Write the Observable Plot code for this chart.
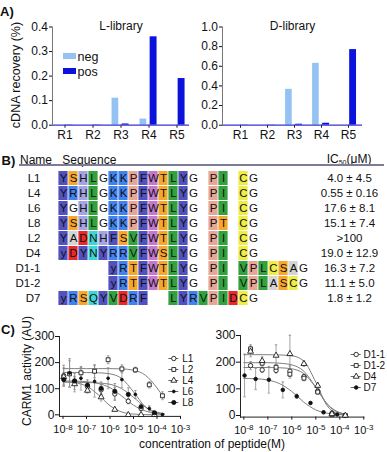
<!DOCTYPE html>
<html><head><meta charset="utf-8">
<script src="https://cdn.jsdelivr.net/npm/d3@7"></script>
<script src="https://cdn.jsdelivr.net/npm/@observablehq/plot@0.6"></script>
<style>
html,body{margin:0;padding:0;background:#fff;}
#root{position:relative;width:387px;height:452px;overflow:hidden;font-family:"Liberation Sans",Arial,Helvetica,sans-serif;color:#111;}
.t{position:absolute;white-space:nowrap;line-height:1;transform:translate(0,-50%);}
.rot{position:absolute;white-space:nowrap;line-height:1;transform:translate(-50%,-50%) rotate(-90deg);}
</style></head><body><div id="root"></div>
<script>
// ---------- Panel A data ----------
const rounds = ["R1","R2","R3","R4","R5"];
const lNeg = [0, 0, 0.11, 0.025, 0];
const lPos = [0.001, 0.001, 0.005, 0.36, 0.19];
const dNeg = [0, 0, 0.365, 0.63, 0];
const dPos = [0.002, 0.002, 0.01, 0.02, 0.77];
const lTicks = [0, 0.1, 0.2, 0.3, 0.4];
const dTicks = [0, 0.2, 0.4, 0.6, 0.8, 1.0];

// ---------- Panel B data ----------
const peptideNames = ["L1","L4","L6","L8","L2","D4","D1-1","D1-2","D7"];
const sequences = [
  "YSHLGKKPFWTLYG PI CG",
  "YRHLGKKPFWTLYG PI CG",
  "YGHLGKKPFWTLYG PI CG",
  "YSHLGKKPFWTLYG PT CG",
  "YADNHFSVFWTLYG PI CG",
  "yDYNYRRVFWSLYG PI CG",
  "     yRTFWTLYG PI VPLCSAG",
  "     yRTFWTLYG PI VPLASCG",
  "yRSQYVDRF  LYRVPIDCG"
];
const ic50Labels = ["4.0 ± 4.5","0.55 ± 0.16","17.6 ± 8.1","15.1 ± 7.4",">100","19.0 ± 12.9","16.3 ± 7.2","11.1 ± 5.0","1.8 ± 1.2"];

// ---------- Panel C data ----------
const decades = [1e-8, 1e-7, 1e-6, 1e-5, 1e-4, 1e-3];
const concA = [1.9e-8, 5.8e-8, 2.2e-7, 8.3e-7, 3.2e-6, 1.2e-5, 4.7e-5, 1.7e-4];
const concB = [1.07e-8, 3.1e-8, 1.1e-7, 4.2e-7, 1.6e-6, 6e-6, 2.1e-5, 7.8e-5];
const fitConc = [1e-8, 3.16e-8, 1e-7, 3.16e-7, 1e-6, 3.16e-6, 1e-5, 3.16e-5, 1e-4, 2e-4];

const l1Mean = [150,128,108,96,80,52,24,4],   l1Sd = [40,30,15,20,25,10,8,3];
const l2Mean = [157,161,167,211,176,172,115,73], l2Sd = [50,20,25,15,15,10,12,15];
const l4Mean = [145,118,93,68,20,0,0,0],     l4Sd = [35,30,10,15,5,2,2,2];
const l6Mean = [160,140,128,140,135,78,24,1], l6Sd = [55,45,60,40,30,15,10,3];
const l8Mean = [135,130,114,101,90,78,31,8],  l8Sd = [20,15,20,25,30,25,10,5];
const l1Fit = [130,129,127,120,104,72,37,15,5,3];
const l2Fit = [177,177,177,177,177,176,171,152,103,64];
const l4Fit = [127,123,110,77,35,11,3,1,0,0];
const l6Fit = [162,162,162,161,157,139,88,31,7,3];
const l8Fit = [125,125,124,122,117,100,67,30,10,5];

const d11Mean = [187,171,169,166,146,91,9,0],  d11Sd = [15,10,10,20,8,8,3,0];
const d12Mean = [250,196,181,155,140,88,3,0],  d12Sd = [15,10,10,15,10,8,3,0];
const d4Mean  = [240,205,225,231,194,112,6,0], d4Sd  = [20,15,40,70,10,10,4,0];
const d7Mean  = [150,137,134,96,72,47,12,4],   d7Sd  = [80,40,50,30,8,5,5,2];
const d11Fit = [180,180,180,179,175,157,105,39,9,4];
const d12Fit = [198,198,198,196,190,166,106,41,11,5];
const d4Fit  = [228,228,228,227,224,204,125,33,5,2];
const d7Fit  = [139,138,133,119,90,50,21,8,3,1];

const leftNames = ["L1","L2","L4","L6","L8"];
const rightNames = ["D1-1","D1-2","D4","D7"];

// ---------- styles ----------
const FONT = '"Liberation Sans", Arial, Helvetica, sans-serif';
const NEG = "#94c3f3", POS = "#0b12dc";
const resColor = {Y:"#5151bf", F:"#5151bf", H:"#a3a3e6", L:"#34a13f", V:"#34a13f", I:"#34a13f",
  K:"#4282f0", R:"#4282f0", P:"#e8a696", W:"#c477cc", T:"#f6a72b", S:"#f6a72b",
  C:"#eded45", D:"#e62a2a", N:"#3ed5d5", Q:"#3ed5d5", A:"#d4d4d4"};
const symStyle = {
  "L1": {symbol:"circle", fill:"white", r:2.2},
  "L2": {symbol:"square", fill:"white", r:2.2},
  "L4": {symbol:"triangle", fill:"white", r:2.2},
  "L6": {symbol:"circle", fill:"#111", r:1.4},
  "L8": {symbol:"circle", fill:"#111", r:2.1},
  "D1-1": {symbol:"circle", fill:"white", r:2.2},
  "D1-2": {symbol:"square", fill:"white", r:2.2},
  "D4": {symbol:"triangle", fill:"white", r:2.2},
  "D7": {symbol:"circle", fill:"#111", r:1.8}
};

const root = document.getElementById("root");
const baseStyle = {background:"transparent", fontFamily: FONT, overflow:"visible", color:"#111"};

function place(svg, left, top) {
  svg.style.position = "absolute";
  svg.style.left = left + "px";
  svg.style.top = top + "px";
  svg.style.maxWidth = "none";
  root.append(svg);
}
function addText(html, x, cy, size, o = {}) {
  const d = document.createElement("div");
  d.className = o.rot ? "rot" : "t";
  d.style.left = x + "px"; d.style.top = cy + "px"; d.style.fontSize = size + "px";
  if (o.bold) d.style.fontWeight = "bold";
  if (o.center) d.style.transform = "translate(-50%,-50%)";
  d.innerHTML = html;
  root.append(d);
}
function addBox(x, y, w, h, color) {
  const d = document.createElement("div");
  Object.assign(d.style, {position:"absolute", left:x+"px", top:y+"px", width:w+"px", height:h+"px", background:color});
  root.append(d);
}

// ---------- Panel A ----------
function barPlot(o) {
  const data = o.rounds.flatMap((r, i) => [{r, t:"neg", v:o.neg[i]}, {r, t:"pos", v:o.pos[i]}]);
  const hb = o.half;
  return Plot.plot({
    width: o.width, height: 145,
    marginLeft: o.mL, marginRight: o.mR, marginTop: 26.5, marginBottom: 20.3,
    style: {...baseStyle, fontSize: "12px"},
    x: {type:"band", domain:o.rounds, range:o.range, paddingInner:o.pi, paddingOuter:o.po, tickSize:3, tickPadding:2, label:null},
    y: {domain:[0, o.yMax], ticks:o.ticks, tickFormat: d3.format(".1f"), tickSize:3, tickPadding:1.5, label:null},
    marks: [
      Plot.barY(data.filter(d => d.t === "neg"), {x:"r", y:"v", fill:NEG, insetLeft: hb - 9, insetRight: hb + 2.2}),
      Plot.barY(data.filter(d => d.t === "pos"), {x:"r", y:"v", fill:POS, insetLeft: hb + 1.1, insetRight: hb - 8.1}),
      Plot.ruleY([0], {stroke:"#3434cf", strokeWidth:1.2}),
      Plot.frame({anchor:"left", stroke:"#777"}),
      Plot.text([o.title], {text: d => d, frameAnchor:"top", dy:-5.8, fontSize:12})
    ]
  });
}
place(barPlot({rounds, neg:lNeg, pos:lPos, width:195, mL:52, mR:6, range:[53,188], pi:0.26, po:0, half:10.54,
  yMax:0.4, ticks:lTicks, title:"L-library"}), 0, 0);
place(barPlot({rounds, neg:dNeg, pos:dPos, width:195, mL:32, mR:23, range:[36,172], pi:0.27, po:0.1, half:10.07,
  yMax:1.0, ticks:dTicks, title:"D-library"}), 190, 0);

addText("A)", 0, 11, 13, {bold:true});
addText("cDNA recovery (%)", 15.5, 75, 12.5, {rot:true});
addBox(63.3, 53, 12.7, 6.4, NEG);
addBox(63.3, 67.5, 12.7, 6.4, POS);
addText("neg", 77.5, 56.5, 12.5);
addText("pos", 77.5, 71.5, 12.5);

// ---------- Panel B ----------
const cells = [];
peptideNames.forEach((name, i) => {
  [...sequences[i]].forEach((ch, j) => { if (ch !== " ") cells.push({name, col:j, res:ch}); });
});
const rows = peptideNames.map((name, i) => ({name, ic50: ic50Labels[i]}));
const tablePlot = Plot.plot({
  width: 387, height: 152,
  marginLeft: 53.3, marginRight: 74.7, marginTop: 6.3, marginBottom: 3.3,
  style: {...baseStyle, fontSize: "11.5px"},
  x: {type:"band", domain: d3.range(25), padding:0, axis:null},
  y: {type:"band", domain: peptideNames, padding:0.07, axis:null},
  color: {type:"identity"},
  marks: [
    Plot.cell(cells.filter(d => resColor[d.res.toUpperCase()]), {x:"col", y:"name", fill: d => resColor[d.res.toUpperCase()], insetLeft:0.4, insetRight:0.4}),
    Plot.text(cells, {x:"col", y:"name", text:"res", fontSize:11.5, fill:"#111"}),
    Plot.text(rows, {y:"name", text:"name", frameAnchor:"left", textAnchor:"end", dx:-13.3, fontSize:11.5}),
    Plot.text(rows, {y:"name", text:"ic50", frameAnchor:"right", textAnchor:"middle", dx:36.7, fontSize:11.5})
  ]
});
place(tablePlot, 0, 160);
addText("B)", 1.5, 159.5, 13, {bold:true});
addText("Name", 20, 159.5, 12);
addText("Sequence", 62.3, 159.5, 12);
addText('IC<sub style="font-size:7px;vertical-align:-2px;line-height:0">50</sub>(μM)', 326.7, 158.5, 12);
addBox(19, 164.3, 365, 1.4, "#7c7c98");

// ---------- Panel C ----------
const capSym = {draw(ctx, size) { const w = Math.sqrt(size / Math.PI); ctx.moveTo(-w, 0); ctx.lineTo(w, 0); }};
function buildSeries(names, concs, means, sds, fits) {
  const pts = [], fit = [];
  names.forEach((s, k) => {
    concs[k].forEach((c, i) => pts.push({s, c, v:means[k][i], e:sds[k][i]}));
    fitConc.forEach((c, i) => fit.push({s, c, v:fits[k][i]}));
  });
  return {pts, fit};
}
function supTicks(svg) {
  const ns = "http://www.w3.org/2000/svg";
  svg.querySelectorAll("text").forEach(t => {
    const m = /^10\^(-?\d+)$/.exec(t.textContent);
    if (!m) return;
    t.textContent = "";
    const a = document.createElementNS(ns, "tspan"); a.textContent = "10";
    const b = document.createElementNS(ns, "tspan"); b.textContent = m[1];
    b.setAttribute("dy", "-0.45em"); b.setAttribute("font-size", "8");
    t.append(a, b); t.setAttribute("font-size", "11");
  });
}
function dosePlot(names, ser, o) {
  const svg = Plot.plot({
    width: o.width, height: 132,
    marginLeft: o.mL, marginRight: o.mR, marginTop: o.mT, marginBottom: o.mB,
    style: {...baseStyle, fontSize: "12px"},
    x: {type:"log", domain:[o.xMin, 1e-3], ticks: decades, tickFormat: d => "10^" + Math.round(Math.log10(d)), tickSize:3, tickPadding:6, label:null},
    y: {domain:[-6, 300], ticks:[0,100,200,300], tickSize:4, tickPadding:1, label:null},
    marks: [
      Plot.frame({anchor:"left", stroke:"#222"}),
      Plot.frame({anchor:"bottom", stroke:"#222"}),
      Plot.ruleX(ser.pts.filter(d => d.e > 0), {x:"c", y1: d => d.v - d.e, y2: d => d.v + d.e, stroke:"#8a8a8a", strokeWidth:0.8}),
      Plot.dot(ser.pts.filter(d => d.e > 0), {x:"c", y: d => d.v + d.e, symbol: capSym, r:1.3, stroke:"#8a8a8a", fill:"none", strokeWidth:0.8}),
      Plot.dot(ser.pts.filter(d => d.e > 0), {x:"c", y: d => d.v - d.e, symbol: capSym, r:1.3, stroke:"#8a8a8a", fill:"none", strokeWidth:0.8}),
      Plot.line(ser.fit, {x:"c", y:"v", z:"s", curve:"monotone-x", stroke:"#808080", strokeWidth:1}),
      ...names.map(s => Plot.dot(ser.pts.filter(d => d.s === s), {x:"c", y:"v", symbol: symStyle[s].symbol, r: symStyle[s].r, fill: symStyle[s].fill, stroke:"#111", strokeWidth:0.85}))
    ]
  });
  supTicks(svg);
  return svg;
}
function legendPlot(names, o) {
  return Plot.plot({
    width: o.width, height: o.height, marginLeft: o.mL, marginRight: o.mR, marginTop: 0, marginBottom: 0,
    style: {...baseStyle, fontSize: "10px"},
    y: {type:"point", domain:names, range:o.range, axis:null},
    marks: [
      Plot.tickY(names, {y: d => d, stroke:"#555", strokeWidth:0.9}),
      ...names.map(s => Plot.dot([s], {y: d => d, symbol: symStyle[s].symbol, r: symStyle[s].r, fill: symStyle[s].fill, stroke:"#111", strokeWidth:0.85})),
      Plot.text(names, {y: d => d, text: d => d, frameAnchor:"right", textAnchor:"start", dx:o.dx, fontSize:10})
    ]
  });
}

const leftSer = buildSeries(leftNames, [concB, concA, concB, concA, concB],
  [l1Mean, l2Mean, l4Mean, l6Mean, l8Mean], [l1Sd, l2Sd, l4Sd, l6Sd, l8Sd], [l1Fit, l2Fit, l4Fit, l6Fit, l8Fit]);
const rightSer = buildSeries(rightNames, [concA, concA, concA, concB],
  [d11Mean, d12Mean, d4Mean, d7Mean], [d11Sd, d12Sd, d4Sd, d7Sd], [d11Fit, d12Fit, d4Fit, d7Fit]);

place(dosePlot(leftNames, leftSer, {width:200, mL:59, mR:20, mT:16, mB:36.1, xMin: 10 ** -8.15}), 0, 320);
place(dosePlot(rightNames, rightSer, {width:190, mL:50, mR:16.7, mT:15, mB:35.4, xMin: 10 ** -8.14}), 190, 320);
place(legendPlot(leftNames, {width:45, height:80, mL:3.3, mR:31.7, range:[11, 69], dx:3.4}), 165, 340);
place(legendPlot(rightNames, {width:39, height:70, mL:2.7, mR:26.3, range:[11.7, 58], dx:2.3}), 348, 336);

addText("C)", 1, 329, 13, {bold:true});
addText("CARM1 activity (AU)", 26.5, 371, 12, {rot:true});
addText("concentration of peptide(M)", 212, 444, 12, {center:true});
</script>
</body></html>
